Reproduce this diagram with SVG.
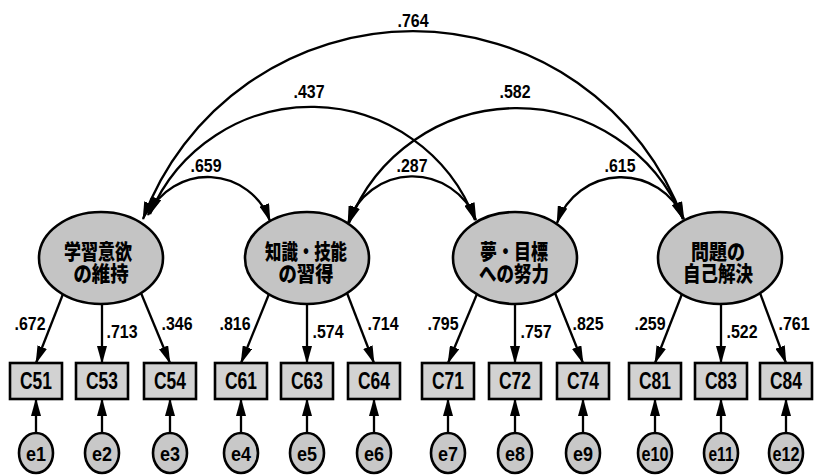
<svg xmlns="http://www.w3.org/2000/svg" width="814" height="475" viewBox="0 0 814 475">
<style>
.bg{fill:#ffffff}
.lat{fill:#c4c4c4;stroke:#000;stroke-width:2.6}
.obs{fill:#d2d2d2;stroke:#000;stroke-width:2.6}
.err{fill:#c8c8c8;stroke:#000;stroke-width:2.6}
.ln{fill:none;stroke:#000;stroke-width:2.3}
.arr{marker-end:url(#ah)}
.dbl{marker-start:url(#ah);marker-end:url(#ah)}
.num{font-family:"Liberation Sans",Arial,sans-serif;font-weight:bold;font-size:18px;text-anchor:middle;fill:#000}
.box{font-family:"Liberation Sans",Arial,sans-serif;font-weight:bold;font-size:23px;text-anchor:middle;fill:#000}
.e{font-family:"Liberation Sans",Arial,sans-serif;font-weight:bold;font-size:21px;text-anchor:middle;fill:#000}
.ja{font-family:"Liberation Sans","Noto Sans CJK JP",sans-serif;font-weight:900;font-size:21px;text-anchor:middle;fill:#000}
</style>
<defs>
<marker id="ah" viewBox="0 0 18 10" refX="17" refY="5" markerWidth="18" markerHeight="10" markerUnits="userSpaceOnUse" orient="auto-start-reverse">
<path d="M0,0 L18,5 L0,10 z" fill="#000"/>
</marker>
</defs>
<rect class="bg" x="0" y="0" width="814" height="475"/>

<g id="connectors">
<path class="ln dbl" d="M143,219 A288,288 0 0 1 683,219"/>
<path class="ln dbl" d="M150,214 A175,175 0 0 1 475,220"/>
<path class="ln dbl" d="M349,223 A180,180 0 0 1 683,219"/>
<path class="ln dbl" d="M148,215 A66,66 0 0 1 270,221"/>
<path class="ln dbl" d="M348,223 A68,68 0 0 1 476,220"/>
<path class="ln dbl" d="M557,223 A68,68 0 0 1 684,219"/>

<line class="ln arr" x1="63" y1="294" x2="36" y2="363"/>
<line class="ln arr" x1="102" y1="304" x2="102" y2="363"/>
<line class="ln arr" x1="141" y1="293" x2="170" y2="363"/>
<line class="ln arr" x1="269" y1="294" x2="241" y2="363"/>
<line class="ln arr" x1="307" y1="304" x2="307" y2="363"/>
<line class="ln arr" x1="347" y1="293" x2="374" y2="363"/>
<line class="ln arr" x1="477" y1="294" x2="448" y2="363"/>
<line class="ln arr" x1="515" y1="304" x2="515" y2="363"/>
<line class="ln arr" x1="555" y1="293" x2="583" y2="363"/>
<line class="ln arr" x1="682" y1="294" x2="655" y2="363"/>
<line class="ln arr" x1="721" y1="304" x2="721" y2="363"/>
<line class="ln arr" x1="760" y1="293" x2="786" y2="363"/>

<line class="ln arr" x1="36" y1="433" x2="36" y2="399"/>
<line class="ln arr" x1="102" y1="433" x2="102" y2="399"/>
<line class="ln arr" x1="170" y1="433" x2="170" y2="399"/>
<line class="ln arr" x1="241" y1="433" x2="241" y2="399"/>
<line class="ln arr" x1="307" y1="433" x2="307" y2="399"/>
<line class="ln arr" x1="374" y1="433" x2="374" y2="399"/>
<line class="ln arr" x1="448" y1="433" x2="448" y2="399"/>
<line class="ln arr" x1="515" y1="433" x2="515" y2="399"/>
<line class="ln arr" x1="583" y1="433" x2="583" y2="399"/>
<line class="ln arr" x1="655" y1="433" x2="655" y2="399"/>
<line class="ln arr" x1="721" y1="433" x2="721" y2="399"/>
<line class="ln arr" x1="786" y1="433" x2="786" y2="399"/>

<text class="num" x="413" y="27" textLength="31" lengthAdjust="spacingAndGlyphs">.764</text>
<text class="num" x="309" y="98" textLength="31" lengthAdjust="spacingAndGlyphs">.437</text>
<text class="num" x="515" y="98" textLength="31" lengthAdjust="spacingAndGlyphs">.582</text>
<text class="num" x="206" y="172" textLength="31" lengthAdjust="spacingAndGlyphs">.659</text>
<text class="num" x="412" y="172" textLength="31" lengthAdjust="spacingAndGlyphs">.287</text>
<text class="num" x="620" y="172" textLength="31" lengthAdjust="spacingAndGlyphs">.615</text>

<text class="num" x="30" y="330" textLength="31" lengthAdjust="spacingAndGlyphs">.672</text>
<text class="num" x="122" y="338" textLength="31" lengthAdjust="spacingAndGlyphs">.713</text>
<text class="num" x="177" y="330" textLength="31" lengthAdjust="spacingAndGlyphs">.346</text>
<text class="num" x="235" y="330" textLength="31" lengthAdjust="spacingAndGlyphs">.816</text>
<text class="num" x="328" y="338" textLength="31" lengthAdjust="spacingAndGlyphs">.574</text>
<text class="num" x="383" y="330" textLength="31" lengthAdjust="spacingAndGlyphs">.714</text>
<text class="num" x="443" y="330" textLength="31" lengthAdjust="spacingAndGlyphs">.795</text>
<text class="num" x="536" y="338" textLength="31" lengthAdjust="spacingAndGlyphs">.757</text>
<text class="num" x="588" y="330" textLength="31" lengthAdjust="spacingAndGlyphs">.825</text>
<text class="num" x="650" y="330" textLength="31" lengthAdjust="spacingAndGlyphs">.259</text>
<text class="num" x="742" y="338" textLength="31" lengthAdjust="spacingAndGlyphs">.522</text>
<text class="num" x="794" y="330" textLength="31" lengthAdjust="spacingAndGlyphs">.761</text>
</g>

<g id="F1"><ellipse class="lat" cx="101" cy="258" rx="62" ry="46"/>
<text class="ja" x="98" y="259" textLength="68" lengthAdjust="spacingAndGlyphs">学習意欲</text>
<text class="ja" x="101" y="281" textLength="55" lengthAdjust="spacingAndGlyphs">の維持</text></g>
<g id="F2"><ellipse class="lat" cx="307" cy="258" rx="62" ry="46"/>
<text class="ja" x="306" y="259" textLength="82" lengthAdjust="spacingAndGlyphs">知識・技能</text>
<text class="ja" x="306" y="281" textLength="55" lengthAdjust="spacingAndGlyphs">の習得</text></g>
<g id="F3"><ellipse class="lat" cx="515" cy="258" rx="62" ry="46"/>
<text class="ja" x="514" y="259" textLength="68" lengthAdjust="spacingAndGlyphs">夢・目標</text>
<text class="ja" x="514" y="281" textLength="70" lengthAdjust="spacingAndGlyphs">への努力</text></g>
<g id="F4"><ellipse class="lat" cx="720" cy="258" rx="62" ry="46"/>
<text class="ja" x="718" y="259" textLength="54" lengthAdjust="spacingAndGlyphs">問題の</text>
<text class="ja" x="718" y="281" textLength="70" lengthAdjust="spacingAndGlyphs">自己解決</text></g>

<g id="C51"><rect class="obs" x="10" y="363" width="52" height="36"/><text class="box" x="36" y="389" textLength="32" lengthAdjust="spacingAndGlyphs">C51</text></g>
<g id="C53"><rect class="obs" x="76" y="363" width="52" height="36"/><text class="box" x="102" y="389" textLength="32" lengthAdjust="spacingAndGlyphs">C53</text></g>
<g id="C54"><rect class="obs" x="144" y="363" width="52" height="36"/><text class="box" x="170" y="389" textLength="32" lengthAdjust="spacingAndGlyphs">C54</text></g>
<g id="C61"><rect class="obs" x="215" y="363" width="52" height="36"/><text class="box" x="241" y="389" textLength="32" lengthAdjust="spacingAndGlyphs">C61</text></g>
<g id="C63"><rect class="obs" x="281" y="363" width="52" height="36"/><text class="box" x="307" y="389" textLength="32" lengthAdjust="spacingAndGlyphs">C63</text></g>
<g id="C64"><rect class="obs" x="348" y="363" width="52" height="36"/><text class="box" x="374" y="389" textLength="32" lengthAdjust="spacingAndGlyphs">C64</text></g>
<g id="C71"><rect class="obs" x="422" y="363" width="52" height="36"/><text class="box" x="448" y="389" textLength="32" lengthAdjust="spacingAndGlyphs">C71</text></g>
<g id="C72"><rect class="obs" x="489" y="363" width="52" height="36"/><text class="box" x="515" y="389" textLength="32" lengthAdjust="spacingAndGlyphs">C72</text></g>
<g id="C74"><rect class="obs" x="557" y="363" width="52" height="36"/><text class="box" x="583" y="389" textLength="32" lengthAdjust="spacingAndGlyphs">C74</text></g>
<g id="C81"><rect class="obs" x="629" y="363" width="52" height="36"/><text class="box" x="655" y="389" textLength="32" lengthAdjust="spacingAndGlyphs">C81</text></g>
<g id="C83"><rect class="obs" x="695" y="363" width="52" height="36"/><text class="box" x="721" y="389" textLength="32" lengthAdjust="spacingAndGlyphs">C83</text></g>
<g id="C84"><rect class="obs" x="760" y="363" width="52" height="36"/><text class="box" x="786" y="389" textLength="32" lengthAdjust="spacingAndGlyphs">C84</text></g>

<g id="e1"><ellipse class="err" cx="36" cy="453" rx="17" ry="20"/><text class="e" x="36" y="461" textLength="20" lengthAdjust="spacingAndGlyphs">e1</text></g>
<g id="e2"><ellipse class="err" cx="102" cy="453" rx="17" ry="20"/><text class="e" x="102" y="461" textLength="20" lengthAdjust="spacingAndGlyphs">e2</text></g>
<g id="e3"><ellipse class="err" cx="170" cy="453" rx="17" ry="20"/><text class="e" x="170" y="461" textLength="20" lengthAdjust="spacingAndGlyphs">e3</text></g>
<g id="e4"><ellipse class="err" cx="241" cy="453" rx="17" ry="20"/><text class="e" x="241" y="461" textLength="20" lengthAdjust="spacingAndGlyphs">e4</text></g>
<g id="e5"><ellipse class="err" cx="307" cy="453" rx="17" ry="20"/><text class="e" x="307" y="461" textLength="20" lengthAdjust="spacingAndGlyphs">e5</text></g>
<g id="e6"><ellipse class="err" cx="374" cy="453" rx="17" ry="20"/><text class="e" x="374" y="461" textLength="20" lengthAdjust="spacingAndGlyphs">e6</text></g>
<g id="e7"><ellipse class="err" cx="448" cy="453" rx="17" ry="20"/><text class="e" x="448" y="461" textLength="20" lengthAdjust="spacingAndGlyphs">e7</text></g>
<g id="e8"><ellipse class="err" cx="515" cy="453" rx="17" ry="20"/><text class="e" x="515" y="461" textLength="20" lengthAdjust="spacingAndGlyphs">e8</text></g>
<g id="e9"><ellipse class="err" cx="583" cy="453" rx="17" ry="20"/><text class="e" x="583" y="461" textLength="20" lengthAdjust="spacingAndGlyphs">e9</text></g>
<g id="e10"><ellipse class="err" cx="655" cy="453" rx="17" ry="20"/><text class="e" x="655" y="461" textLength="27" lengthAdjust="spacingAndGlyphs">e10</text></g>
<g id="e11"><ellipse class="err" cx="721" cy="453" rx="17" ry="20"/><text class="e" x="721" y="461" textLength="25" lengthAdjust="spacingAndGlyphs">e11</text></g>
<g id="e12"><ellipse class="err" cx="786" cy="453" rx="17" ry="20"/><text class="e" x="786" y="461" textLength="27" lengthAdjust="spacingAndGlyphs">e12</text></g>
</svg>
